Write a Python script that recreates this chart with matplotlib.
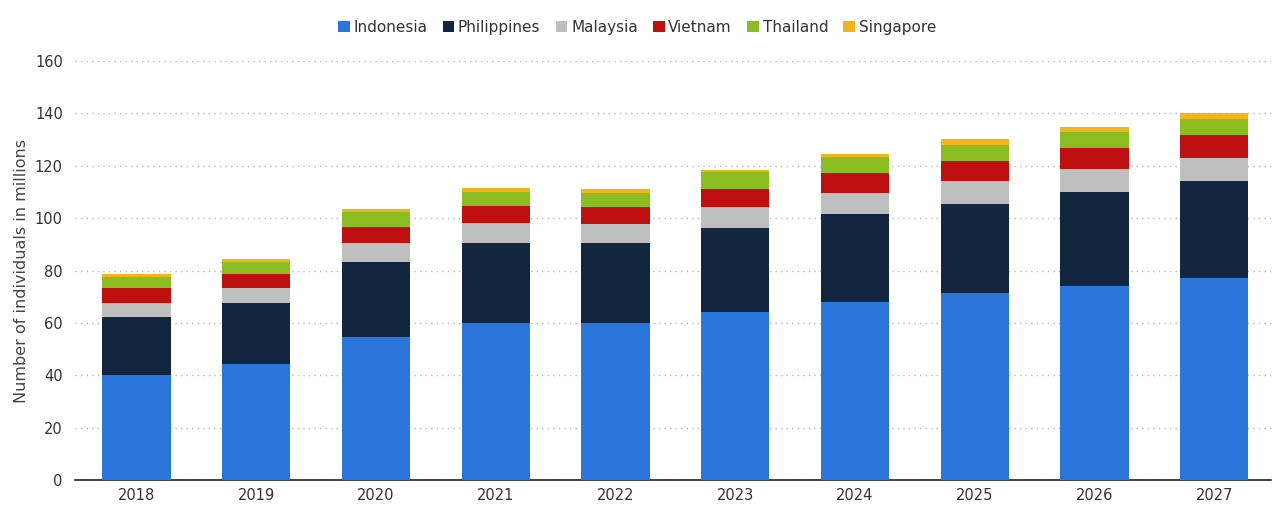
import matplotlib.pyplot as plt
import numpy as np

# data (millions)
years = ['2018', '2019', '2020', '2021', '2022', '2023', '2024', '2025', '2026', '2027']
indonesia = [40.0, 44.2, 54.7, 59.8, 59.8, 64.3, 68.1, 71.3, 74.1, 77.0]
philippines = [22.1, 23.3, 28.7, 30.8, 30.6, 31.8, 33.5, 34.1, 35.7, 37.2]
malaysia = [5.6, 5.7, 7.2, 7.4, 7.2, 8.0, 8.1, 8.8, 8.8, 8.9]
vietnam = [5.5, 5.5, 6.1, 6.6, 6.8, 7.0, 7.4, 7.6, 8.0, 8.6]
thailand = [4.4, 4.5, 5.7, 5.4, 5.2, 6.6, 6.2, 6.1, 6.4, 6.1]
singapore = [0.9, 1.2, 1.1, 1.4, 1.4, 0.7, 1.2, 2.2, 1.9, 2.5]

series = [
    ('Indonesia', indonesia, '#2a76dd'),
    ('Philippines', philippines, '#12263f'),
    ('Malaysia', malaysia, '#bfbfbf'),
    ('Vietnam', vietnam, '#c00f0f'),
    ('Thailand', thailand, '#8bbd21'),
    ('Singapore', singapore, '#f2b51c'),
]

fig = plt.figure(figsize=(12.77, 5.08), dpi=100)
ax = fig.add_axes([0.059, 0.055, 0.936, 0.825])

x = np.arange(len(years))
bottom = np.zeros(len(years))
for name, vals, col in series:
    ax.bar(x, vals, bottom=bottom, width=0.57, color=col, label=name, zorder=3)
    bottom += np.array(vals)

ax.set_ylim(0, 160)
ax.set_xlim(-0.51, 9.47)
ax.set_yticks(range(0, 161, 20))
ax.set_xticks(x)
ax.set_xticklabels(years)

ax.grid(axis='y', color='#b8b8b8', linestyle=(0, (1, 3)), linewidth=1, zorder=0)
for s in ['top', 'right', 'left']:
    ax.spines[s].set_visible(False)
ax.spines['bottom'].set_color('#222222')
ax.spines['bottom'].set_linewidth(1.2)
ax.tick_params(axis='y', length=0, labelsize=10.5, labelcolor='#333333', pad=9)
ax.tick_params(axis='x', length=0, labelsize=10.5, labelcolor='#333333', pad=6)

ax.set_ylabel('Number of individuals in millions', fontsize=11.5, color='#444444', labelpad=4)

ax.legend(loc='center', bbox_to_anchor=(0.47, 1.08), ncol=6, frameon=False,
          fontsize=11, handlelength=0.75, handleheight=0.75, handletextpad=0.25,
          columnspacing=1.0, labelcolor='#333333')

fig.savefig('out.png', dpi=100)
